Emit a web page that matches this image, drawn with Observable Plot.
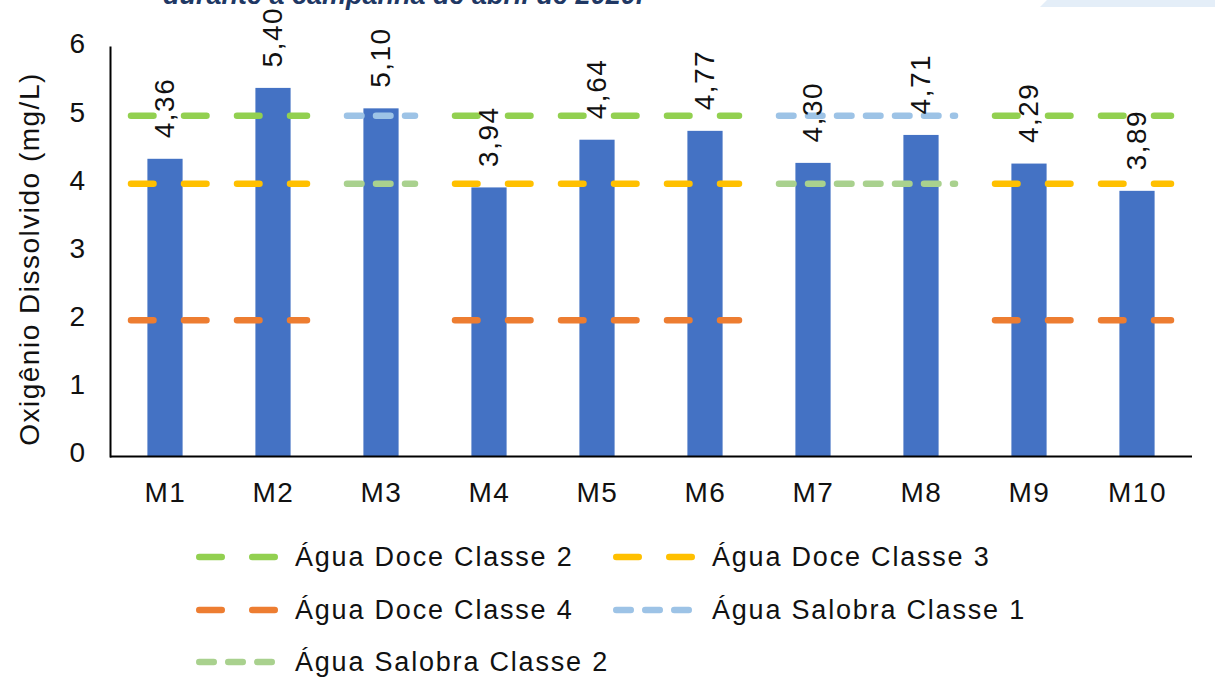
<!DOCTYPE html>
<html><head><meta charset="utf-8">
<script src="https://cdn.jsdelivr.net/npm/d3@7"></script>
<script src="https://cdn.jsdelivr.net/npm/@observablehq/plot@0.6"></script>
<style>
body{margin:0;background:#fff;width:1215px;height:700px;overflow:hidden;position:relative;font-family:"Liberation Sans",Arial,sans-serif;}
#title{position:absolute;left:163px;top:-18px;font:italic bold 27px "Liberation Sans",Arial,sans-serif;color:#1f3864;white-space:nowrap;line-height:27px;}
#deco{position:absolute;left:1040px;top:0;width:175px;height:7px;background:#e4eef8;clip-path:polygon(4% 0,100% 0,100% 100%,0 100%);}
#chart{position:absolute;left:0;top:0;}
.item{position:absolute;display:flex;align-items:center;height:40px;}
.item span{font-size:27px;letter-spacing:1.8px;color:#111;margin-left:15px;white-space:nowrap;}
</style>
</head><body>
<div id="title">durante a campanha de abril de 2020.</div>
<div id="deco"></div>
<div id="chart"></div>
<div id="legend"></div>
<script>
const stations = ["M1","M2","M3","M4","M5","M6","M7","M8","M9","M10"];
const od = [4.36,5.40,5.10,3.94,4.64,4.77,4.30,4.71,4.29,3.89];
const yTicks = [0,1,2,3,4,5,6];
const yLabel = "Oxigênio Dissolvido (mg/L)";
const seriesNames = ["Água Doce Classe 2","Água Doce Classe 3","Água Doce Classe 4","Água Salobra Classe 1","Água Salobra Classe 2"];
const doce2    = [5,5,null,5,5,5,null,null,5,5];
const doce3    = [4,4,null,4,4,4,null,null,4,4];
const doce4    = [2,2,null,2,2,2,null,null,2,2];
const salobra1 = [null,null,5,null,null,null,5,5,null,null];
const salobra2 = [null,null,4,null,null,null,4,4,null,null];
const seriesValues = [doce2, doce3, doce4, salobra1, salobra2];
const seriesColors = ["#92d050","#ffc000","#ed7d31","#9dc3e6","#a9d18e"];
const longDash = "22.5,30.5";
const shortDash = "14.5,14.5";
const seriesDash = [longDash, longDash, longDash, shortDash, shortDash];

const bars = stations.map((s,i)=>({station:s, value:od[i]}));
const fmt = v => d3.format(".2f")(v).replace(".", ",");

function runs(vals){
  const out=[]; let start=null;
  for(let i=0;i<=vals.length;i++){
    const v = i<vals.length ? vals[i] : null;
    if(v!=null && start===null) start=i;
    if((v==null || (start!==null && vals[start]!==v)) && start!==null){
      out.push({x1:stations[start], x2:stations[i-1], y:vals[start]});
      start = v!=null ? i : null;
    }
  }
  return out;
}

const ruleMarks = seriesValues.map((vals,k)=>Plot.ruleY(runs(vals), {
  x1:"x1", x2:"x2", y:"y", stroke:seriesColors[k], strokeWidth:6.5,
  strokeDasharray:seriesDash[k], strokeLinecap:"round", insetLeft:20, insetRight:20
}));

const plot = Plot.plot({
  width:1215, height:520,
  marginLeft:110, marginRight:23, marginTop:47, marginBottom:64,
  style:{fontFamily:"'Liberation Sans', Arial, sans-serif", fontSize:"28px", color:"#111", background:"transparent", letterSpacing:"1.5px"},
  x:{type:"band", domain:stations, padding:0, label:null},
  y:{domain:[0,6], label:null},
  marks:[
    Plot.barY(bars, {x:"station", y:"value", fill:"#4472c4", insetLeft:36.4, insetRight:36.4}),
    ...ruleMarks,
    Plot.ruleY([0], {stroke:"#000", strokeWidth:2}),
    Plot.frame({anchor:"left", stroke:"#000", strokeWidth:2}),
    Plot.axisX({tickSize:0, tickPadding:26, label:null}),
    Plot.axisY(yTicks, {tickSize:0, tickPadding:24, label:null, dy:-3, tickFormat:d=>String(d)}),
    Plot.text(bars, {x:"station", y:"value", text:d=>fmt(d.value), rotate:-90, textAnchor:"start", dy:-21, fontSize:28, fill:"#111"}),
    Plot.text([yLabel], {frameAnchor:"left", textAnchor:"middle", text:d=>d, rotate:-90, dx:-80, dy:7, fontSize:28, fill:"#111"})
  ]
});
document.getElementById("chart").appendChild(plot);

// legend
const legendPos = [[196,537],[613,537],[196,590],[613,590],[196,642]];
const legend = document.getElementById("legend");
seriesNames.forEach((name,k)=>{
  const div = document.createElement("div");
  div.className="item";
  div.style.left = legendPos[k][0]+"px";
  div.style.top = legendPos[k][1]+"px";
  const ns="http://www.w3.org/2000/svg";
  const svg=document.createElementNS(ns,"svg");
  svg.setAttribute("width","84"); svg.setAttribute("height","12");
  const ln=document.createElementNS(ns,"line");
  ln.setAttribute("x1","3.25"); ln.setAttribute("x2","80.75");
  ln.setAttribute("y1","6"); ln.setAttribute("y2","6");
  ln.setAttribute("stroke",seriesColors[k]); ln.setAttribute("stroke-width","6.5");
  ln.setAttribute("stroke-linecap","round"); ln.setAttribute("stroke-dasharray",seriesDash[k]);
  svg.appendChild(ln);
  const sp=document.createElement("span"); sp.textContent=name;
  div.appendChild(svg); div.appendChild(sp);
  legend.appendChild(div);
});
</script>
</body></html>
